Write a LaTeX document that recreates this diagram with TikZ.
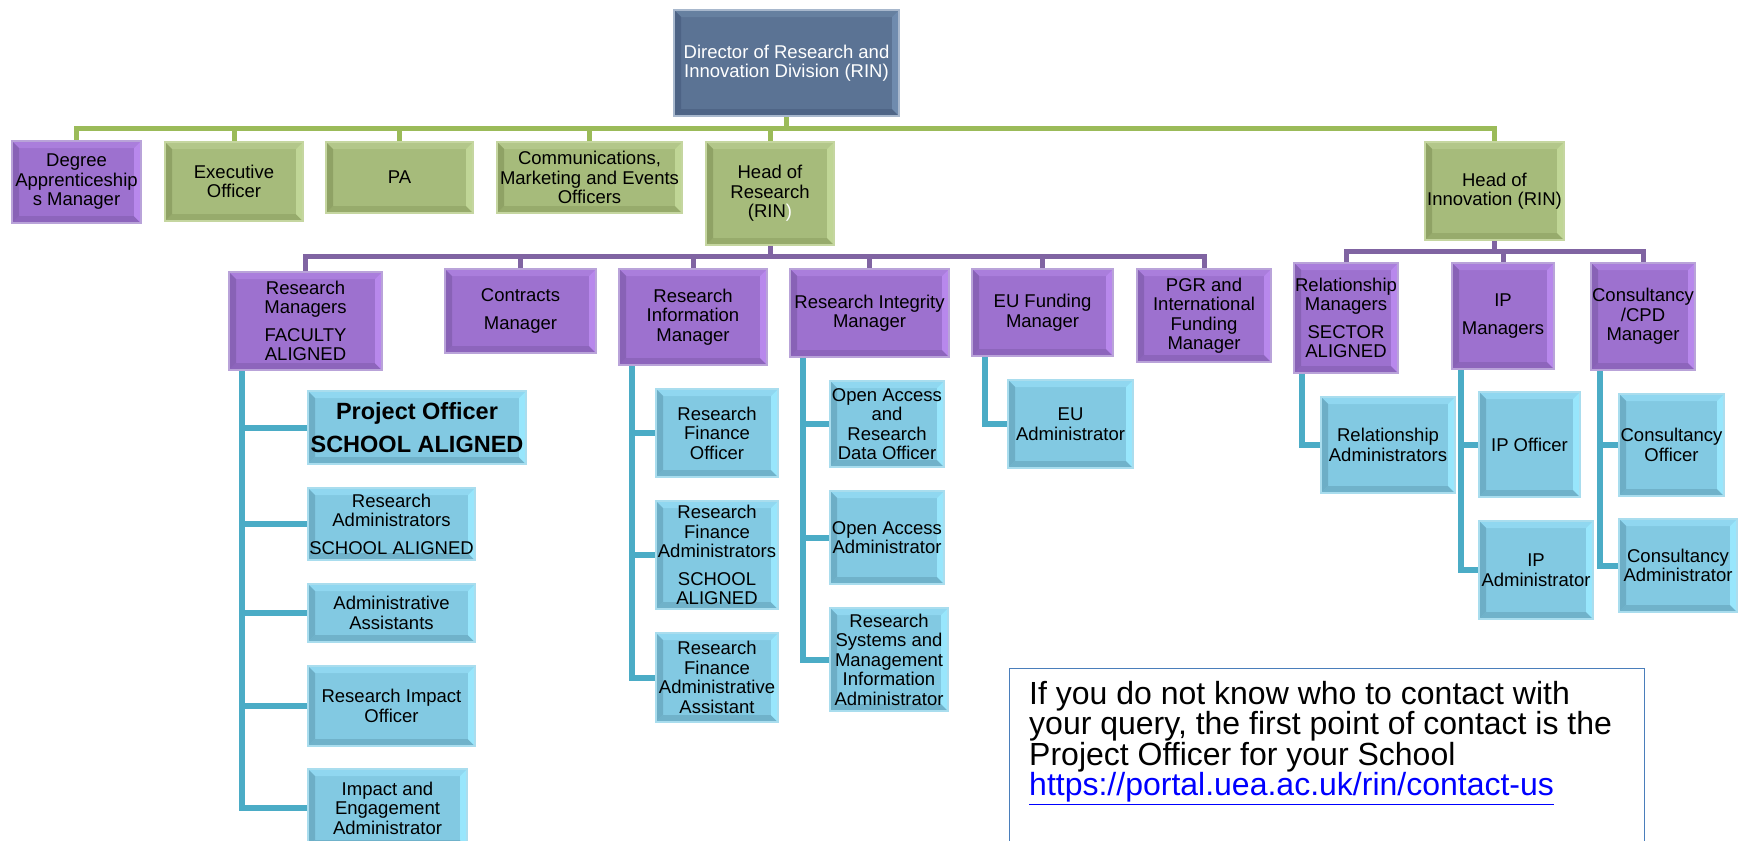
\documentclass[tikz,border=0pt]{standalone}
\usepackage{fontspec}
\setmainfont{Liberation Sans}
\usetikzlibrary{calc,positioning}

% box colours: border, fill, top, left, right, bottom
\definecolor{grB}{HTML}{C5D6A0}\definecolor{grF}{HTML}{A6BB7B}
\definecolor{grT}{HTML}{B3C78A}\definecolor{grL}{HTML}{8FA265}
\definecolor{grR}{HTML}{C0D696}\definecolor{grD}{HTML}{97AB6C}
\definecolor{puB}{HTML}{B9A3D9}\definecolor{puF}{HTML}{9D71CF}
\definecolor{puT}{HTML}{AA7EDC}\definecolor{puL}{HTML}{8862B6}
\definecolor{puR}{HTML}{B888EC}\definecolor{puD}{HTML}{8D65BC}
\definecolor{blB}{HTML}{A9DDEE}\definecolor{blF}{HTML}{82C9E2}
\definecolor{blT}{HTML}{90D7F0}\definecolor{blL}{HTML}{6DAEC6}
\definecolor{blR}{HTML}{98E6FC}\definecolor{blD}{HTML}{70B2CA}
\definecolor{diB}{HTML}{A8B8CD}\definecolor{diF}{HTML}{5B7394}
\definecolor{diT}{HTML}{6680A0}\definecolor{diL}{HTML}{4D6385}
\definecolor{diR}{HTML}{6F8BAE}\definecolor{diD}{HTML}{4F6586}
% lines
\definecolor{grLine}{HTML}{9BBB59}
\definecolor{puLine}{HTML}{8064A2}
\definecolor{blLine}{HTML}{4BACC6}
\definecolor{noteBlue}{HTML}{4A7EBB}

\newcommand{\bevel}[4]{%
  \coordinate (bnw) at (path picture bounding box.north west);
  \coordinate (bne) at (path picture bounding box.north east);
  \coordinate (bsw) at (path picture bounding box.south west);
  \coordinate (bse) at (path picture bounding box.south east);
  \fill[#1] (bnw) -- (bne) -- ([shift={(-7pt,-7pt)}]bne) -- ([shift={(7pt,-7pt)}]bnw) -- cycle;
  \fill[#4] (bsw) -- (bse) -- ([shift={(-7pt,7pt)}]bse) -- ([shift={(7pt,7pt)}]bsw) -- cycle;
  \fill[#2] (bnw) -- (bsw) -- ([shift={(7pt,7pt)}]bsw) -- ([shift={(7pt,-7pt)}]bnw) -- cycle;
  \fill[#3] (bne) -- (bse) -- ([shift={(-7pt,7pt)}]bse) -- ([shift={(-7pt,-7pt)}]bne) -- cycle;
}

\tikzset{
  box/.style={anchor=north west, inner sep=0pt, align=center, line width=2pt,
    font=\fontsize{18.5}{19.5}\selectfont},
  dibox/.style={box, draw=diB, fill=diF, text=white, path picture={\bevel{diT}{diL}{diR}{diD}}},
  grbox/.style={box, draw=grB, fill=grF, path picture={\bevel{grT}{grL}{grR}{grD}}},
  pubox/.style={box, draw=puB, fill=puF, path picture={\bevel{puT}{puL}{puR}{puD}}},
  blbox/.style={box, draw=blB, fill=blF, path picture={\bevel{blT}{blL}{blR}{blD}}},
  grline/.style={draw=grLine, line width=5pt},
  puline/.style={draw=puLine, line width=5pt},
  blline/.style={draw=blLine, line width=6pt},
}

\begin{document}
\begin{tikzpicture}[x=1pt,y=-1pt]
\useasboundingbox (0,0) rectangle (1741,841);

\coordinate (gbus) at (786,128); %green bus
\coordinate (hbus) at (769,256); %research bus
\coordinate (ibus) at (1493,251); %innovation bus

% top
\node[dibox, minimum width=225, minimum height=106] (dir) at (673,9)
  {Director of Research and\\Innovation Division (RIN)};

% first row
\node[pubox, minimum width=129, minimum height=82] (deg) at (11,140)
  {Degree\\Apprenticeship\\s Manager};
\node[grbox, minimum width=138, minimum height=79] (exo) at (164,141)
  {Executive\\Officer};
\node[grbox, minimum width=147, minimum height=71] (pa) at (325,141) {PA};
\node[grbox, minimum width=185, minimum height=71] (comm) at (496,141)
  {Communications,\\Marketing and Events\\Officers};
\node[grbox, minimum width=128, minimum height=103] (hor) at (705,141)
  {Head of\\Research\\(RIN\textcolor{white}{)}};
\node[grbox, minimum width=139, minimum height=98] (hoi) at (1424,141)
  {Head of\\Innovation (RIN)};

% research managers
\node[pubox, minimum width=153, minimum height=98] (rm) at (228,271)
  {Research\\Managers\\[8pt]FACULTY\\ALIGNED};
\node[pubox, minimum width=151, minimum height=84] (cm) at (444,268)
  {Contracts\\[8pt]Manager};
\node[pubox, minimum width=148, minimum height=96] (rim) at (618,268)
  {Research\\Information\\Manager};
\node[pubox, minimum width=159, minimum height=88] (rint) at (789,268)
  {Research Integrity\\Manager};
\node[pubox, minimum width=141, minimum height=87] (eum) at (971,268)
  {EU Funding\\Manager};
\node[pubox, minimum width=134, minimum height=93] (pgr) at (1136,268)
  {PGR and\\International\\Funding\\Manager};

% innovation managers
\node[pubox, minimum width=104, minimum height=110] (relm) at (1293,262)
  {Relationship\\Managers\\[8pt]SECTOR\\ALIGNED};
\node[pubox, minimum width=102, minimum height=106] (ipm) at (1451,262)
  {IP\\[8pt]Managers};
\node[pubox, minimum width=104, minimum height=107] (cons) at (1590,262)
  {Consultancy\\/CPD\\Manager};

% under research managers
\node[blbox, minimum width=218, minimum height=73,
  font=\fontsize{23.5}{25}\selectfont\bfseries] (po) at (307,390)
  {Project Officer\\[8pt]SCHOOL ALIGNED};
\node[blbox, minimum width=167, minimum height=72] (ra) at (307,487)
  {Research\\Administrators\\[8pt]SCHOOL ALIGNED};
\node[blbox, minimum width=167, minimum height=58] (aa) at (307,583)
  {Administrative\\Assistants};
\node[blbox, minimum width=167, minimum height=80] (rio) at (307,665)
  {Research Impact\\Officer};
\node[blbox, minimum width=159, minimum height=78] (iea) at (307,768)
  {Impact and\\Engagement\\Administrator};

% under information manager
\node[blbox, minimum width=122, minimum height=88] (rfo) at (655,388)
  {Research\\Finance\\Officer};
\node[blbox, minimum width=122, minimum height=108] (rfa) at (655,500)
  {Research\\Finance\\Administrators\\[8pt]SCHOOL\\ALIGNED};
\node[blbox, minimum width=122, minimum height=89] (rfaa) at (655,632)
  {Research\\Finance\\Administrative\\Assistant};

% under integrity manager
\node[blbox, minimum width=114, minimum height=86] (oard) at (829,380)
  {Open Access\\and\\Research\\Data Officer};
\node[blbox, minimum width=114, minimum height=93] (oaa) at (829,490)
  {Open Access\\Administrator};
\node[blbox, minimum width=118, minimum height=103] (rsmi) at (829,607)
  {Research\\Systems and\\Management\\Information\\Administrator};

\node[blbox, minimum width=125, minimum height=88] (eua) at (1007,379)
  {EU\\Administrator};
\node[blbox, minimum width=134, minimum height=96] (rela) at (1320,396)
  {Relationship\\Administrators};
\node[blbox, minimum width=101, minimum height=105] (ipo) at (1478,391)
  {IP Officer};
\node[blbox, minimum width=114, minimum height=98] (ipa) at (1478,520)
  {IP\\Administrator};
\node[blbox, minimum width=105, minimum height=102] (co) at (1618,393)
  {Consultancy\\Officer};
\node[blbox, minimum width=118, minimum height=93] (ca) at (1618,518)
  {Consultancy\\Administrator};

% lines
\foreach \c in {deg,exo,pa,comm,hor,hoi}
  \draw[grline] (dir.south) -- (dir.south |- gbus) -| (\c.north);
\foreach \c in {rm,cm,rim,rint,eum,pgr}
  \draw[puline] (hor.south) -- (hor.south |- hbus) -| (\c.north);
\foreach \c in {relm,ipm,cons}
  \draw[puline] (hoi.south) -- (hoi.south |- ibus) -| (\c.north);

\foreach \c in {po,ra,aa,rio,iea}
  \draw[blline] ([xshift=14pt]rm.south west) |- (\c.west);
\foreach \c in {rfo,rfa,rfaa}
  \draw[blline] ([xshift=14pt]rim.south west) |- (\c.west);
\foreach \c in {oard,oaa,rsmi}
  \draw[blline] ([xshift=14pt]rint.south west) |- (\c.west);
\draw[blline] ([xshift=14pt]eum.south west) |- (eua.west);
\draw[blline] ([xshift=9pt]relm.south west) |- (rela.west);
\foreach \c in {ipo,ipa}
  \draw[blline] ([xshift=10pt]ipm.south west) |- (\c.west);
\foreach \c in {co,ca}
  \draw[blline] ([xshift=10pt]cons.south west) |- (\c.west);

% note
\node[draw=noteBlue, line width=1.2pt, anchor=north west, minimum width=635,
  minimum height=180] (frame) at (1009,668) {};
\node[anchor=north west, inner sep=0pt, align=left,
  font=\fontsize{32}{30.5}\selectfont] (note) at ([shift={(20pt,-13pt)}]frame.north west)
  {If you do not know who to contact with\\your query, the first point of contact is the\\
   Project Officer for your School\\
   \textcolor{blue}{\underline{https://portal.uea.ac.uk/rin/contact-us}}};
\end{tikzpicture}
\end{document}
